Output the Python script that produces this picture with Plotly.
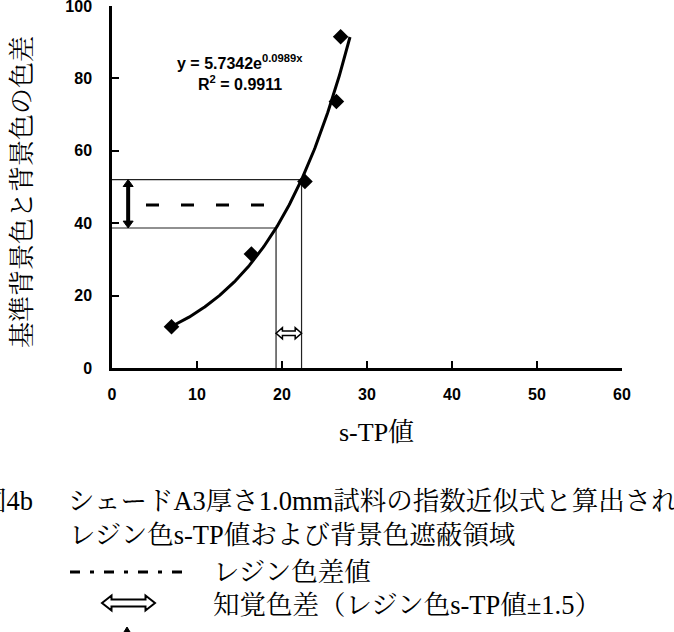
import numpy as np
import plotly.graph_objects as go

# ---------------- data ----------------
stp_values = [7.0, 16.4, 22.7, 26.4, 26.9]          # s-TP値
color_diff = [11.4, 31.5, 51.5, 73.6, 91.5]         # 基準背景色と背景色の色差
fit_a = 5.7342
fit_b = 0.0989
fit_r2 = 0.9911
curve_range = [7.0, 28.0]
resin_diff = 45.0          # レジン色差値
resin_tp = 20.8            # レジン色s-TP値
perceptual = 1.5           # 知覚色差 ±1.5
dash_range = [4.0, 18.1]
vert_arrow_x = 1.9
hollow_arrow_y = 9.6
x_ticks = [0, 10, 20, 30, 40, 50, 60]
y_ticks = [0, 20, 40, 60, 80, 100]

# ---------------- layout helpers ----------------
W, H = 674, 632
L, R, T, B = 112, 52, 6, 264
PW, PH = W - L - R, H - T - B


def px(x):
    return (x - L) / PW


def py(y):
    return (H - B - y) / PH


SERIF = "Liberation Serif, Noto Serif CJK JP, Noto Sans CJK JP, serif"
SANS = "Liberation Sans, Arial, sans-serif"

fit = lambda x: fit_a * np.exp(fit_b * np.asarray(x))
tp_lo, tp_hi = resin_tp - perceptual, resin_tp + perceptual
y_lo, y_hi = float(fit(tp_lo)), float(fit(tp_hi))

fig = go.Figure()

# guide lines (thin)
fig.add_trace(go.Scatter(x=[0, tp_hi, tp_hi], y=[y_hi, y_hi, 0], mode="lines",
                         line=dict(color="#222", width=1.2), hoverinfo="skip", showlegend=False))
fig.add_trace(go.Scatter(x=[0, tp_lo, tp_lo], y=[y_lo, y_lo, 0], mode="lines",
                         line=dict(color="#222", width=1.2), hoverinfo="skip", showlegend=False))

# resin colour difference dashed line
fig.add_trace(go.Scatter(x=dash_range, y=[resin_diff, resin_diff], mode="lines",
                         line=dict(color="black", width=3, dash="13px,22px"),
                         hoverinfo="skip", showlegend=False))

# fitted curve
xc = np.linspace(curve_range[0], curve_range[1], 200)
fig.add_trace(go.Scatter(x=xc, y=fit(xc), mode="lines",
                         line=dict(color="black", width=3), showlegend=False))

# data points
fig.add_trace(go.Scatter(x=stp_values, y=color_diff, mode="markers",
                         marker=dict(symbol="diamond", size=12, color="black"),
                         showlegend=False))

shapes = []
# vertical filled double arrow
head = 1.9
shapes.append(dict(type="line", xref="x", yref="y", x0=vert_arrow_x, x1=vert_arrow_x,
                   y0=y_lo + head * 0.8, y1=y_hi - head * 0.8,
                   line=dict(color="black", width=4)))
for tip, base in [(y_hi, y_hi - head), (y_lo, y_lo + head)]:
    shapes.append(dict(type="path", xref="x", yref="y", xsizemode="pixel", xanchor=vert_arrow_x,
                       path=f"M -5,{base} L 0,{tip} L 5,{base} Z",
                       fillcolor="black", line=dict(color="black", width=1)))

# hollow double arrow in plot
hl = 0.75
a, b = tp_lo, tp_hi
path = (f"M {a},0 L {a+hl},5.5 L {a+hl},2.3 L {b-hl},2.3 L {b-hl},5.5 L {b},0 "
        f"L {b-hl},-5.5 L {b-hl},-2.3 L {a+hl},-2.3 L {a+hl},-5.5 Z")
shapes.append(dict(type="path", xref="x", yref="y", ysizemode="pixel", yanchor=hollow_arrow_y,
                   path=path, fillcolor="white", line=dict(color="black", width=1.5)))

# legend samples below chart
shapes.append(dict(type="line", xref="paper", yref="paper", x0=px(70), x1=px(182),
                   y0=py(572), y1=py(572),
                   line=dict(color="black", width=3, dash="10px,10px,4px,10px")))
shapes.append(dict(type="path", xref="paper", yref="paper", xsizemode="pixel", ysizemode="pixel",
                   xanchor=px(128.5), yanchor=py(603),
                   path=("M -26.5,0 L -17,7.5 L -17,3.5 L 17,3.5 L 17,7.5 L 26.5,0 "
                         "L 17,-7.5 L 17,-3.5 L -17,-3.5 L -17,-7.5 Z"),
                   fillcolor="white", line=dict(color="black", width=2)))
shapes.append(dict(type="path", xref="paper", yref="paper", xsizemode="pixel", ysizemode="pixel",
                   xanchor=px(127), yanchor=py(627),
                   path="M -5.5,-9 L 0,0 L 5.5,-9 Z",
                   fillcolor="black", line=dict(color="black", width=1)))


def cap(x, y, text, xanchor="left", size=26.5, angle=0):
    return dict(x=px(x), y=py(y), xref="paper", yref="paper", showarrow=False,
                xanchor=xanchor, yanchor="middle", textangle=angle, text=text,
                font=dict(family=SERIF, size=size, color="black"))


annotations = [
    dict(x=15.1, y=84.6, xref="x", yref="y", showarrow=False, xanchor="center", yanchor="middle",
         text=f"y = {fit_a}e<sup>{fit_b}x</sup>",
         font=dict(family=SANS, size=16, color="black", weight="bold")),
    dict(x=15.0, y=78.6, xref="x", yref="y", showarrow=False, xanchor="center", yanchor="middle",
         text=f"R<sup>2</sup> = {fit_r2}",
         font=dict(family=SANS, size=16, color="black", weight="bold")),
    # axis titles
    cap(22, 192, "基準背景色と背景色の色差", xanchor="center", size=26, angle=-90),
    cap(376, 432, "s-TP値", xanchor="center", size=26),
    # caption
    cap(35, 501, "図4b", xanchor="right"),
    cap(66, 501, "シェードA3厚さ1.0mm試料の指数近似式と算出された"),
    cap(67, 535, "レジン色s-TP値および背景色遮蔽領域"),
    cap(211, 572, "レジン色差値"),
    cap(211, 605, "知覚色差（レジン色s-TP値±1.5）"),
]

fig.update_layout(
    width=W, height=H,
    margin=dict(l=L, r=R, t=T, b=B, pad=0, autoexpand=False),
    paper_bgcolor="white", plot_bgcolor="white",
    shapes=shapes, annotations=annotations,
    showlegend=False,
)
common = dict(ticks="inside", ticklen=7, tickwidth=2, tickcolor="black", showline=True,
              linecolor="black", linewidth=2.5, showgrid=False, zeroline=False,
              ticklabeloverflow="allow", automargin=False,
              tickfont=dict(family=SANS, size=16, color="black", weight="bold"))
fig.update_xaxes(range=[0, 60], tickvals=x_ticks, ticklabelstandoff=10, **common)
fig.update_yaxes(range=[0, 100], tickvals=y_ticks, ticklabelstandoff=14, **common)

fig.write_html("out.html")
